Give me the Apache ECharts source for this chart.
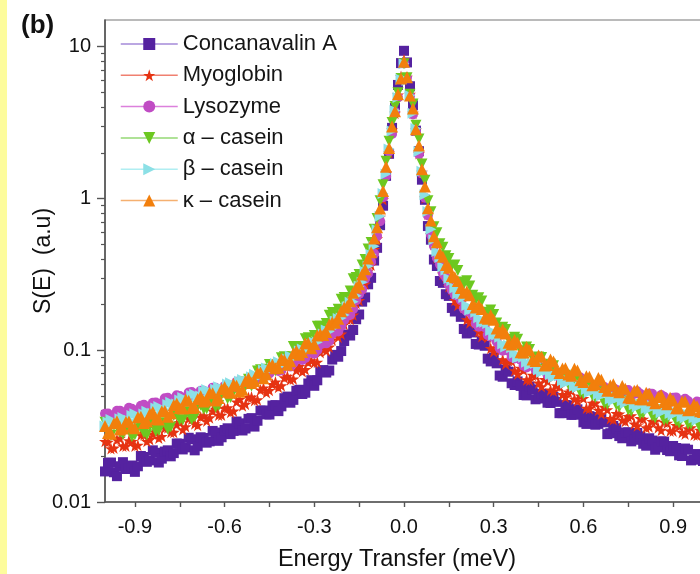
<!DOCTYPE html>
<html>
<head>
<meta charset="utf-8">
<script src="https://cdn.jsdelivr.net/npm/echarts@6/dist/echarts.min.js"></script>
<style>
html,body{margin:0;padding:0;background:#fff;}
#chart{width:700px;height:574px;}
</style>
</head>
<body>
<div id="chart"></div>
<script>
// Energy transfer (meV), one point every 0.01 meV
const E = [
-1.00,-0.99,-0.98,-0.97,-0.96,-0.95,-0.94,-0.93,-0.92,-0.91,-0.90,-0.89,-0.88,-0.87,-0.86,-0.85,-0.84,-0.83,-0.82,-0.81,
-0.80,-0.79,-0.78,-0.77,-0.76,-0.75,-0.74,-0.73,-0.72,-0.71,-0.70,-0.69,-0.68,-0.67,-0.66,-0.65,-0.64,-0.63,-0.62,-0.61,
-0.60,-0.59,-0.58,-0.57,-0.56,-0.55,-0.54,-0.53,-0.52,-0.51,-0.50,-0.49,-0.48,-0.47,-0.46,-0.45,-0.44,-0.43,-0.42,-0.41,
-0.40,-0.39,-0.38,-0.37,-0.36,-0.35,-0.34,-0.33,-0.32,-0.31,-0.30,-0.29,-0.28,-0.27,-0.26,-0.25,-0.24,-0.23,-0.22,-0.21,
-0.20,-0.19,-0.18,-0.17,-0.16,-0.15,-0.14,-0.13,-0.12,-0.11,-0.10,-0.09,-0.08,-0.07,-0.06,-0.05,-0.04,-0.03,-0.02,-0.01,
0.00,0.01,0.02,0.03,0.04,0.05,0.06,0.07,0.08,0.09,0.10,0.11,0.12,0.13,0.14,0.15,0.16,0.17,0.18,0.19,
0.20,0.21,0.22,0.23,0.24,0.25,0.26,0.27,0.28,0.29,0.30,0.31,0.32,0.33,0.34,0.35,0.36,0.37,0.38,0.39,
0.40,0.41,0.42,0.43,0.44,0.45,0.46,0.47,0.48,0.49,0.50,0.51,0.52,0.53,0.54,0.55,0.56,0.57,0.58,0.59,
0.60,0.61,0.62,0.63,0.64,0.65,0.66,0.67,0.68,0.69,0.70,0.71,0.72,0.73,0.74,0.75,0.76,0.77,0.78,0.79,
0.80,0.81,0.82,0.83,0.84,0.85,0.86,0.87,0.88,0.89,0.90,0.91,0.92,0.93,0.94,0.95,0.96,0.97,0.98,0.99,1.00
];
const concanavalinA = [
0.0159,0.0181,0.0182,0.0157,0.0148,0.0172,0.0183,0.0165,0.0167,0.0174,0.0158,0.0172,0.0201,0.0198,0.0184,0.0188,0.0219,0.0211,0.0182,0.0193,
0.0215,0.0219,0.0200,0.0210,0.0243,0.0242,0.0222,0.0229,0.0265,0.0259,0.0219,0.0233,0.0267,0.0264,0.0246,0.0251,0.0294,0.0287,0.0253,0.0267,
0.0298,0.0306,0.0280,0.0294,0.0339,0.0330,0.0296,0.0305,0.0353,0.0357,0.0314,0.0343,0.0400,0.0401,0.0378,0.0377,0.0432,0.0435,0.0397,0.0427,
0.0483,0.0495,0.0451,0.0471,0.0540,0.0549,0.0515,0.0525,0.0604,0.0635,0.0583,0.0634,0.0724,0.0740,0.0713,0.0735,0.0868,0.0932,0.0906,0.0988,
0.115,0.127,0.125,0.136,0.160,
0.172,0.209,0.223,0.272,0.300,0.390,0.473,0.667,0.896,1.41,1.97,2.92,3.95,5.60,7.80,9.40,7.88,5.49,4.11,2.80,2.05,1.33,0.980,0.658,0.535,0.396,0.359,0.286,0.278,0.234,0.228,
0.190,0.180,0.184,0.166,0.138,0.129,0.139,0.131,0.110,0.109,0.114,0.107,0.0880,0.0844,0.0896,0.0820,0.0681,0.0669,0.0743,0.0722,
0.0606,0.0590,0.0623,0.0582,0.0507,0.0504,0.0577,0.0552,0.0475,0.0481,0.0517,0.0513,0.0451,0.0449,0.0494,0.0457,0.0385,0.0385,0.0435,0.0433,
0.0375,0.0376,0.0408,0.0383,0.0335,0.0327,0.0368,0.0363,0.0323,0.0327,0.0352,0.0335,0.0280,0.0284,0.0317,0.0306,0.0272,0.0263,0.0287,0.0288,
0.0251,0.0257,0.0285,0.0271,0.0242,0.0235,0.0263,0.0254,0.0221,0.0229,0.0251,0.0250,0.0220,0.0216,0.0234,0.0227,0.0203,0.0201,0.0225,0.0221,
0.0188,0.0190,0.0207,0.0202,0.0186
];
const myoglobin = [
0.0251,0.0248,0.0225,0.0227,0.0257,0.0263,0.0234,0.0234,0.0254,0.0251,0.0234,0.0237,0.0276,0.0277,0.0251,0.0258,0.0280,0.0288,0.0264,0.0271,
0.0307,0.0309,0.0288,0.0288,0.0325,0.0334,0.0300,0.0314,0.0355,0.0352,0.0328,0.0321,0.0363,0.0370,0.0342,0.0359,0.0398,0.0409,0.0374,0.0374,
0.0414,0.0418,0.0390,0.0398,0.0457,0.0475,0.0430,0.0441,0.0489,0.0492,0.0467,0.0472,0.0548,0.0564,0.0526,0.0544,0.0596,0.0618,0.0570,0.0584,
0.0659,0.0675,0.0640,0.0647,0.0737,0.0782,0.0724,0.0747,0.0832,0.0855,0.0828,0.0835,0.0967,0.103,0.0990,0.105,0.117,0.127,0.122,0.128,
0.148,0.160,0.160,0.171,0.204,
0.213,0.255,0.274,0.333,0.364,0.461,0.543,0.754,0.984,1.48,2.00,2.83,3.65,4.82,6.36,8.19,6.30,4.87,3.65,2.83,1.98,1.49,1.01,0.789,0.579,0.497,0.407,0.376,0.318,0.306,0.263,
0.251,0.213,0.198,0.206,0.191,0.159,0.152,0.158,0.152,0.133,0.123,0.131,0.122,0.103,0.0979,0.104,0.0995,0.0868,0.0813,0.0856,
0.0849,0.0734,0.0697,0.0761,0.0739,0.0639,0.0635,0.0684,0.0680,0.0609,0.0576,0.0643,0.0626,0.0548,0.0539,0.0584,0.0574,0.0511,0.0491,0.0531,
0.0540,0.0477,0.0464,0.0501,0.0482,0.0416,0.0413,0.0448,0.0449,0.0403,0.0381,0.0421,0.0406,0.0355,0.0350,0.0384,0.0381,0.0346,0.0340,0.0366,
0.0370,0.0327,0.0318,0.0355,0.0352,0.0309,0.0313,0.0340,0.0341,0.0309,0.0297,0.0336,0.0331,0.0294,0.0294,0.0320,0.0316,0.0287,0.0281,0.0304,
0.0309,0.0277,0.0275,0.0297,0.0285
];
const lysozyme = [
0.0382,0.0383,0.0368,0.0372,0.0399,0.0400,0.0377,0.0390,0.0418,0.0412,0.0397,0.0397,0.0431,0.0437,0.0409,0.0425,0.0450,0.0452,0.0437,0.0446,
0.0482,0.0486,0.0462,0.0474,0.0505,0.0499,0.0484,0.0485,0.0527,0.0531,0.0494,0.0512,0.0540,0.0540,0.0518,0.0526,0.0567,0.0566,0.0532,0.0545,
0.0581,0.0574,0.0556,0.0564,0.0620,0.0625,0.0581,0.0606,0.0643,0.0648,0.0628,0.0646,0.0704,0.0713,0.0680,0.0702,0.0752,0.0748,0.0729,0.0737,
0.0807,0.0825,0.0780,0.0820,0.0876,0.0887,0.0864,0.0889,0.0968,0.0987,0.0948,0.0999,0.109,0.111,0.111,0.115,0.128,0.136,0.133,0.144,
0.158,0.168,0.171,0.187,0.214,
0.235,0.251,0.296,0.320,0.383,0.433,0.565,0.709,1.02,1.40,2.04,2.66,3.72,4.63,6.18,7.80,6.24,4.73,3.58,2.77,1.96,1.46,1.01,0.773,0.578,0.487,0.406,0.368,0.321,0.303,0.269,
0.249,0.231,0.228,0.214,0.188,0.181,0.181,0.169,0.150,0.143,0.147,0.142,0.126,0.123,0.123,0.114,0.103,0.0994,0.102,0.0988,
0.0898,0.0883,0.0905,0.0865,0.0792,0.0770,0.0812,0.0809,0.0743,0.0750,0.0772,0.0738,0.0690,0.0683,0.0719,0.0713,0.0665,0.0669,0.0701,0.0682,
0.0636,0.0626,0.0668,0.0662,0.0581,0.0589,0.0611,0.0587,0.0550,0.0547,0.0579,0.0573,0.0535,0.0539,0.0564,0.0549,0.0513,0.0507,0.0544,0.0546,
0.0506,0.0516,0.0536,0.0517,0.0489,0.0489,0.0518,0.0516,0.0482,0.0485,0.0507,0.0493,0.0460,0.0454,0.0487,0.0489,0.0452,0.0461,0.0479,0.0463,
0.0438,0.0435,0.0460,0.0455,0.0424
];
const alphaCasein = [
0.0335,0.0286,0.0274,0.0321,0.0320,0.0288,0.0280,0.0310,0.0311,0.0270,0.0277,0.0316,0.0313,0.0286,0.0277,0.0317,0.0333,0.0292,0.0296,0.0332,
0.0331,0.0302,0.0312,0.0372,0.0377,0.0348,0.0347,0.0389,0.0394,0.0349,0.0364,0.0427,0.0434,0.0410,0.0412,0.0460,0.0473,0.0421,0.0433,0.0511,
0.0532,0.0479,0.0488,0.0571,0.0569,0.0528,0.0532,0.0618,0.0645,0.0582,0.0621,0.0730,0.0743,0.0724,0.0750,0.0805,0.0798,0.0732,0.0777,0.0892,
0.0906,0.0851,0.0905,0.106,0.106,0.102,0.106,0.119,0.121,0.113,0.125,0.144,0.144,0.143,0.150,0.170,0.177,0.169,0.186,0.217,
0.223,0.220,0.246,0.296,0.302,
0.315,0.364,0.396,0.465,0.512,0.628,0.737,0.966,1.23,1.76,2.38,3.17,4.03,4.97,6.18,7.71,6.24,4.87,4.19,3.04,2.47,1.69,1.32,0.966,0.817,0.651,0.595,0.504,0.477,0.420,0.402,
0.359,0.364,0.335,0.282,0.272,0.287,0.265,0.230,0.215,0.222,0.211,0.178,0.175,0.184,0.172,0.151,0.139,0.142,0.137,0.118,
0.115,0.122,0.118,0.0992,0.0954,0.105,0.101,0.0888,0.0840,0.0903,0.0897,0.0753,0.0740,0.0810,0.0789,0.0695,0.0643,0.0684,0.0685,0.0596,
0.0584,0.0632,0.0619,0.0527,0.0514,0.0575,0.0560,0.0504,0.0489,0.0530,0.0530,0.0447,0.0441,0.0488,0.0480,0.0438,0.0423,0.0456,0.0463,0.0404,
0.0397,0.0436,0.0434,0.0380,0.0384,0.0426,0.0412,0.0370,0.0359,0.0398,0.0406,0.0347,0.0349,0.0383,0.0374,0.0342,0.0332,0.0361,0.0368,0.0327,
0.0327,0.0355,0.0349,0.0308,0.0313
];
const betaCasein = [
0.0317,0.0336,0.0349,0.0328,0.0328,0.0354,0.0361,0.0347,0.0346,0.0371,0.0382,0.0354,0.0357,0.0380,0.0396,0.0379,0.0385,0.0417,0.0426,0.0407,
0.0405,0.0439,0.0455,0.0431,0.0443,0.0470,0.0489,0.0463,0.0465,0.0504,0.0513,0.0496,0.0499,0.0536,0.0551,0.0514,0.0520,0.0553,0.0575,0.0547,
0.0553,0.0599,0.0610,0.0585,0.0585,0.0625,0.0641,0.0609,0.0627,0.0668,0.0696,0.0666,0.0676,0.0742,0.0764,0.0740,0.0762,0.0817,0.0839,0.0795,
0.0819,0.0875,0.0915,0.0884,0.0907,0.0989,0.102,0.0989,0.0999,0.109,0.113,0.113,0.118,0.128,0.136,0.133,0.139,0.155,0.162,0.163,
0.171,0.193,0.207,0.209,0.229,
0.263,0.281,0.330,0.358,0.427,0.484,0.623,0.764,1.08,1.45,2.12,2.78,3.80,4.63,6.11,7.71,5.99,4.77,3.65,2.89,2.04,1.51,1.06,0.822,0.628,0.534,0.448,0.409,0.355,0.337,0.297,
0.288,0.257,0.236,0.234,0.223,0.197,0.184,0.186,0.178,0.164,0.153,0.153,0.150,0.135,0.126,0.126,0.122,0.110,0.105,0.108,
0.104,0.0957,0.0894,0.0906,0.0900,0.0832,0.0797,0.0824,0.0818,0.0744,0.0717,0.0747,0.0734,0.0691,0.0661,0.0677,0.0680,0.0630,0.0605,0.0628,
0.0626,0.0579,0.0568,0.0595,0.0587,0.0551,0.0526,0.0542,0.0547,0.0513,0.0499,0.0520,0.0520,0.0478,0.0466,0.0491,0.0487,0.0463,0.0448,0.0463,
0.0469,0.0437,0.0422,0.0441,0.0443,0.0413,0.0409,0.0433,0.0432,0.0406,0.0388,0.0401,0.0407,0.0383,0.0374,0.0392,0.0394,0.0365,0.0358,0.0379,
0.0377,0.0358,0.0346,0.0359,0.0365
];
const kappaCasein = [
0.0317,0.0285,0.0282,0.0330,0.0340,0.0300,0.0305,0.0338,0.0339,0.0313,0.0306,0.0362,0.0365,0.0332,0.0341,0.0381,0.0392,0.0352,0.0349,0.0396,
0.0398,0.0364,0.0384,0.0436,0.0446,0.0417,0.0413,0.0474,0.0465,0.0416,0.0420,0.0477,0.0498,0.0460,0.0470,0.0525,0.0520,0.0467,0.0484,0.0555,
0.0573,0.0532,0.0524,0.0598,0.0584,0.0533,0.0549,0.0626,0.0655,0.0609,0.0628,0.0711,0.0714,0.0655,0.0694,0.0785,0.0802,0.0761,0.0768,0.0880,
0.0862,0.0802,0.0845,0.0955,0.0992,0.0934,0.0975,0.111,0.111,0.103,0.110,0.125,0.128,0.126,0.132,0.148,0.153,0.152,0.161,0.181,
0.191,0.196,0.210,0.239,0.259,
0.272,0.315,0.342,0.402,0.443,0.544,0.646,0.858,1.12,1.62,2.15,2.98,3.76,4.87,6.18,7.95,6.30,4.77,3.92,2.86,2.23,1.56,1.20,0.863,0.716,0.564,0.515,0.436,0.413,0.364,0.350,
0.308,0.303,0.286,0.257,0.239,0.244,0.230,0.202,0.191,0.198,0.187,0.164,0.161,0.170,0.159,0.139,0.131,0.137,0.129,0.112,
0.109,0.117,0.112,0.0970,0.0965,0.105,0.100,0.0870,0.0850,0.0922,0.0906,0.0793,0.0799,0.0870,0.0843,0.0752,0.0707,0.0757,0.0762,0.0692,
0.0679,0.0756,0.0735,0.0635,0.0617,0.0675,0.0669,0.0589,0.0598,0.0656,0.0640,0.0572,0.0540,0.0586,0.0598,0.0540,0.0528,0.0581,0.0558,0.0489,
0.0482,0.0541,0.0548,0.0476,0.0475,0.0525,0.0516,0.0468,0.0448,0.0492,0.0508,0.0456,0.0441,0.0486,0.0467,0.0415,0.0415,0.0459,0.0460,0.0402,
0.0405,0.0441,0.0427,0.0397,0.0392
];
const seriesNames = ['Concanavalin A','Myoglobin','Lysozyme','\u03b1 \u2013 casein','\u03b2 \u2013 casein','\u03ba \u2013 casein'];
const xTickLabels = [-0.9,-0.6,-0.3,0.0,0.3,0.6,0.9];
const xMinorTicks = [-0.75,-0.45,-0.15,0.15,0.45,0.75];
const yTickLabels = [0.01,0.1,1,10];
const yMinorTicks = [0.02,0.03,0.04,0.05,0.06,0.07,0.08,0.09,0.2,0.3,0.4,0.5,0.6,0.7,0.8,0.9,2,3,4,5,6,7,8,9];

const FONT = 'Liberation Sans, Arial, Helvetica, sans-serif';
const STAR = 'path://M50,0 L61.8,35.1 L98.9,35.1 L68.9,56.8 L80.2,91.9 L50,70.2 L19.8,91.9 L31.1,56.8 L1.1,35.1 L38.2,35.1 Z';
const styles = [
  {color:'#5522a0', line:'#a48ad8', symbol:'rect', size:10, rot:0},
  {color:'#e63312', line:'#f08070', symbol:STAR, size:12, rot:0},
  {color:'#c04cc4', line:'#dc80dc', symbol:'circle', size:10, rot:0},
  {color:'#6cc820', line:'#94d874', symbol:'triangle', size:11, rot:180},
  {color:'#8ce0e6', line:'#b0eef2', symbol:'triangle', size:11, rot:-90},
  {color:'#f27f0c', line:'#f5b070', symbol:'triangle', size:12, rot:0}
];
const values = [concanavalinA, myoglobin, lysozyme, alphaCasein, betaCasein, kappaCasein];

const chart = echarts.init(document.getElementById('chart'), null, {renderer:'canvas'});
const series = values.map((arr, k) => ({
  name: seriesNames[k],
  type: 'line',
  xAxisIndex: 0,
  yAxisIndex: 0,
  data: E.map((e, i) => [e, arr[i]]),
  showSymbol: true,
  symbol: styles[k].symbol,
  symbolSize: styles[k].size,
  symbolRotate: styles[k].rot,
  itemStyle: {color: styles[k].color, opacity: 1},
  lineStyle: {opacity: 0, width: 0},
  emphasis: {disabled: true},
  silent: true,
  animation: false,
  z: 2 + k
}));

chart.setOption({
  animation: false,
  backgroundColor: '#ffffff',
  title: {
    text: '(b)', left: 16, top: 8,
    textStyle: {fontFamily: FONT, fontSize: 26, fontWeight: 'bold', color: '#111'}
  },
  graphic: [{
    type: 'rect', left: 0, top: 0, z: 100,
    shape: {x: 0, y: 0, width: 7, height: 574},
    style: {fill: '#fdfc9c'}
  }],
  legend: {
    orient: 'vertical', left: 115, top: 28,
    itemWidth: 57, itemHeight: 15, itemGap: 9.3,
    textStyle: {fontFamily: FONT, fontSize: 22, color: '#151515'},
    selectedMode: false,
    data: seriesNames.map((n, k) => ({
      name: n,
      lineStyle: {color: styles[k].line, width: 1.5, opacity: 1}
    }))
  },
  grid: {
    left: 105, top: 20, width: 598, height: 482,
    show: true, borderColor: '#777', borderWidth: 1.2,
    containLabel: false, outerBoundsMode: 'none'
  },
  xAxis: [{
    type: 'value', min: -1, max: 1,
    name: 'Energy Transfer (meV)', nameLocation: 'middle', nameGap: 46, nameMoveOverlap: false,
    nameTextStyle: {fontFamily: FONT, fontSize: 23.5, color: '#111', padding: [0, 14, 0, 0]},
    axisLine: {show: true, onZero: false, lineStyle: {color: '#555', width: 1.6}},
    axisTick: {show: true, inside: false, length: 5, customValues: xTickLabels.concat(xMinorTicks), lineStyle: {color: '#555', width: 1.4}},
    axisLabel: {show: true, margin: 15, customValues: xTickLabels, formatter: v => Number(v).toFixed(1),
      fontFamily: FONT, fontSize: 20, color: '#111'},
    splitLine: {show: false}
  }],
  yAxis: [{
    type: 'log', logBase: 10, min: 0.01, max: 15,
    name: 'S(E)  (a.u)', nameLocation: 'middle', nameGap: 50, nameRotate: 90, nameMoveOverlap: false,
    nameTextStyle: {fontFamily: FONT, fontSize: 23, color: '#111'},
    axisLine: {show: true, onZero: false, lineStyle: {color: '#555', width: 1.6}},
    axisTick: {show: true, inside: false, length: 8, customValues: yTickLabels, lineStyle: {color: '#555', width: 1.4}},
    axisLabel: {show: true, margin: 14, customValues: yTickLabels,
      formatter: v => String(Number(v)), fontFamily: FONT, fontSize: 20, color: '#111'},
    splitLine: {show: false}
  }, {
    type: 'log', logBase: 10, min: 0.01, max: 15, position: 'left',
    axisLine: {show: false, onZero: false},
    axisTick: {show: true, inside: false, length: 4, customValues: yMinorTicks, lineStyle: {color: '#555', width: 1.2}},
    axisLabel: {show: false},
    splitLine: {show: false}
  }],
  series: series
});
</script>
</body>
</html>
